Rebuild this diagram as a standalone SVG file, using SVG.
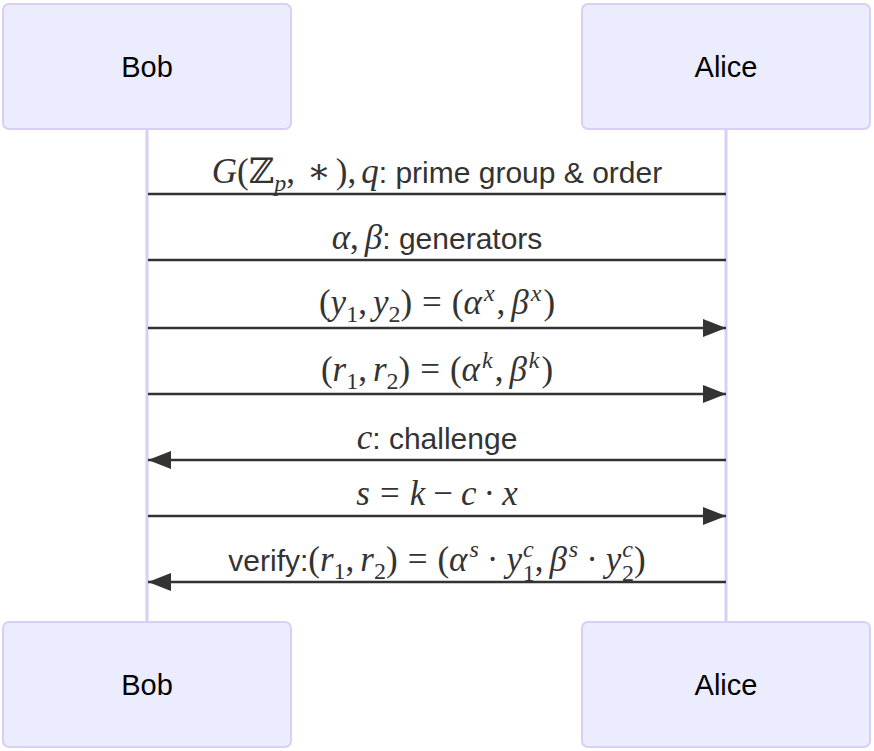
<svg xmlns="http://www.w3.org/2000/svg" width="874" height="751" viewBox="0 0 874 751">
<style>
.actor{fill:#ECECFF;stroke:#DACEF3;stroke-width:2}
.atext{font-family:"Liberation Sans",Arial,sans-serif;font-size:29px;fill:#000;text-anchor:middle;dominant-baseline:central}
.life{stroke:#DACEF3;stroke-width:3}
.msg{stroke:#333;stroke-width:2.5;fill:none}
.lbl{font-family:"Liberation Sans",Arial,sans-serif;font-size:30px;fill:#333;text-anchor:middle}
.m{font-family:"Liberation Serif","DejaVu Serif",serif;font-size:35px}
.i{font-style:italic}
.s{font-family:"Liberation Serif","DejaVu Serif",serif;font-size:24px}
.t{font-family:"Liberation Sans",Arial,sans-serif;font-size:30px}
</style>
<defs>
<marker id="ah" markerWidth="23" markerHeight="18" refX="23" refY="9" orient="auto" markerUnits="userSpaceOnUse">
<path d="M0,0 L23,9 L0,18 Z" fill="#333"/>
</marker>
</defs>
<g id="lifelines">
<line class="life" x1="147" y1="129" x2="147" y2="622"/>
<line class="life" x1="726" y1="129" x2="726" y2="622"/>
</g>
<g id="bob-top"><rect class="actor" x="3" y="4" width="288" height="125" rx="6"/><text class="atext" x="147" y="67">Bob</text></g>
<g id="alice-top"><rect class="actor" x="582" y="4" width="288" height="125" rx="6"/><text class="atext" x="726" y="67">Alice</text></g>
<g id="bob-bottom"><rect class="actor" x="3" y="622" width="288" height="125" rx="6"/><text class="atext" x="147" y="685">Bob</text></g>
<g id="alice-bottom"><rect class="actor" x="582" y="622" width="288" height="125" rx="6"/><text class="atext" x="726" y="685">Alice</text></g>
<g id="connectors">
<line class="msg" x1="726" y1="194" x2="148" y2="194"/>
<line class="msg" x1="726" y1="260" x2="148" y2="260"/>
<line class="msg" x1="148" y1="328" x2="726" y2="328" marker-end="url(#ah)"/>
<line class="msg" x1="148" y1="394" x2="726" y2="394" marker-end="url(#ah)"/>
<line class="msg" x1="726" y1="460" x2="148" y2="460" marker-end="url(#ah)"/>
<line class="msg" x1="148" y1="516" x2="726" y2="516" marker-end="url(#ah)"/>
<line class="msg" x1="726" y1="582" x2="148" y2="582" marker-end="url(#ah)"/>
</g>
<g id="labels">
<text class="lbl" x="437" y="183"><tspan class="m i">G</tspan><tspan class="m">(</tspan><tspan class="m" font-family="DejaVu Serif" font-size="30">ℤ</tspan><tspan class="s i" dy="8">p</tspan><tspan class="m" dy="-8">,</tspan><tspan class="m" dx="12">∗</tspan><tspan class="m" dx="5">),</tspan><tspan class="m i" dx="5">q</tspan><tspan class="t">: prime group &amp; order</tspan></text>
<text class="lbl" x="437" y="249"><tspan class="m i">α</tspan><tspan class="m">,</tspan><tspan class="m i" dx="6">β</tspan><tspan class="t">: generators</tspan></text>
<text class="lbl" x="437" y="314"><tspan class="m">(</tspan><tspan class="m i">y</tspan><tspan class="s" dy="8">1</tspan><tspan class="m" dy="-8">,</tspan><tspan class="m i" dx="6">y</tspan><tspan class="s" dy="8">2</tspan><tspan class="m" dy="-8">)</tspan><tspan class="m" dx="10">=</tspan><tspan class="m" dx="10">(</tspan><tspan class="m i">α</tspan><tspan class="s i" dx="2" dy="-13">x</tspan><tspan class="m" dx="2" dy="13">,</tspan><tspan class="m i" dx="6">β</tspan><tspan class="s i" dx="2" dy="-13">x</tspan><tspan class="m" dx="2" dy="13">)</tspan></text>
<text class="lbl" x="437" y="381"><tspan class="m">(</tspan><tspan class="m i">r</tspan><tspan class="s" dy="8">1</tspan><tspan class="m" dy="-8">,</tspan><tspan class="m i" dx="6">r</tspan><tspan class="s" dy="8">2</tspan><tspan class="m" dy="-8">)</tspan><tspan class="m" dx="10">=</tspan><tspan class="m" dx="10">(</tspan><tspan class="m i">α</tspan><tspan class="s i" dx="2" dy="-13">k</tspan><tspan class="m" dx="2" dy="13">,</tspan><tspan class="m i" dx="6">β</tspan><tspan class="s i" dx="2" dy="-13">k</tspan><tspan class="m" dx="2" dy="13">)</tspan></text>
<text class="lbl" x="437" y="449"><tspan class="m i">c</tspan><tspan class="t">: challenge</tspan></text>
<text class="lbl" x="437" y="505"><tspan class="m i">s</tspan><tspan class="m" dx="10">=</tspan><tspan class="m i" dx="10">k</tspan><tspan class="m" dx="8">−</tspan><tspan class="m i" dx="8">c</tspan><tspan class="m" dx="7">·</tspan><tspan class="m i" dx="7">x</tspan></text>
<text class="lbl" x="437" y="571"><tspan class="t">verify:</tspan><tspan class="m">(</tspan><tspan class="m i">r</tspan><tspan class="s" dy="8">1</tspan><tspan class="m" dy="-8">,</tspan><tspan class="m i" dx="6">r</tspan><tspan class="s" dy="8">2</tspan><tspan class="m" dy="-8">)</tspan><tspan class="m" dx="10">=</tspan><tspan class="m" dx="10">(</tspan><tspan class="m i">α</tspan><tspan class="s i" dx="2" dy="-14">s</tspan><tspan class="m" dx="8" dy="14">·</tspan><tspan class="m i" dx="8">y</tspan><tspan class="s i" dx="1" dy="-14">c</tspan><tspan class="s" dx="-11" dy="24">1</tspan><tspan class="m" dy="-10">,</tspan><tspan class="m i" dx="6">β</tspan><tspan class="s i" dx="2" dy="-14">s</tspan><tspan class="m" dx="8" dy="14">·</tspan><tspan class="m i" dx="8">y</tspan><tspan class="s i" dx="1" dy="-14">c</tspan><tspan class="s" dx="-11" dy="24">2</tspan><tspan class="m" dy="-10">)</tspan></text>
</g>
</svg>
